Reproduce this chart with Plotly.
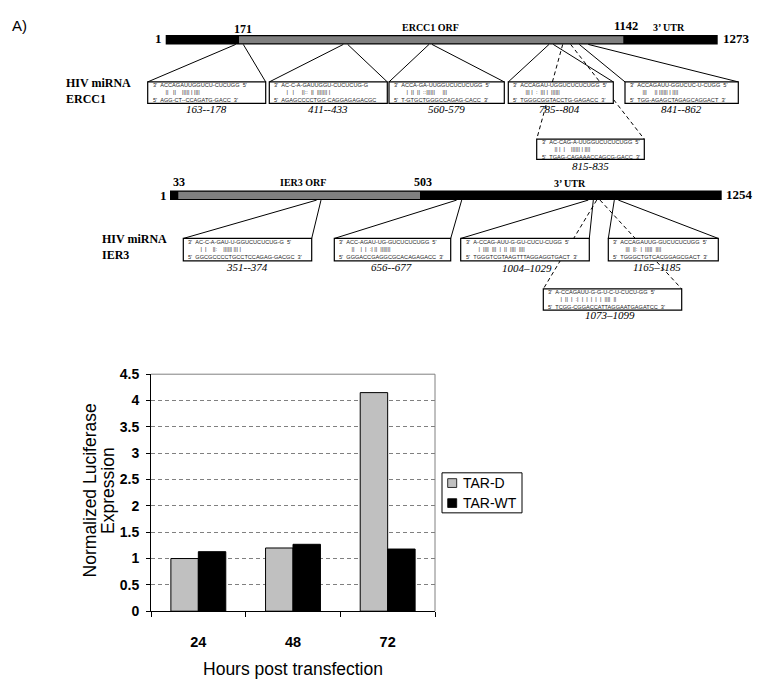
import plotly.graph_objects as go

W, H = 765, 681

# ---------------- data ----------------
hours = ["24", "48", "72"]
tar_d = [1.0, 1.2, 4.15]
tar_wt = [1.13, 1.27, 1.18]
series_names = ["TAR-D", "TAR-WT"]
series_colors = ["#C0C0C0", "black"]
y_ticks = [0, 0.5, 1, 1.5, 2, 2.5, 3, 3.5, 4, 4.5]
y_title_lines = ["Normalized Luciferase", "Expression"]
x_title = "Hours post transfection"

ercc1_ends = ["1", "171", "1142", "1273"]
ier3_ends = ["1", "33", "503", "1254"]

ercc1_sites = ["163--178", "411--433", "560-579", "785--804", "841--862", "815-835"]
ercc1_top = ["ACCAGAUUGGUCU-CUCUGG", "AC-C-A-GAUUGGU-CUCUCUG-G", "ACCA-GA-UUGGUCUCUCUGG",
             "ACCAGAU-UGGUCUCUCUGG", "ACCAGAUU-GGUCUC-U-CUGG", "AC-CAG-A-UUGGUCUCUCUGG"]
ercc1_match = ["||   ||    ||||| | ||||", "|   |     ||::  ||  ||||||| |", "|  ||  ||  ::||||||     |||",
               "||| |  :  ||| |  ||||||", "|||     || |||||| | ||||", "|| |  |    |||||| | ||||"]
ercc1_bot = ["AGG-CT--CCAGATG-GACC", "AGAGCCCCTGG-CAGGAGAGACGC", "T-GTGCTGGGCCAGAG-CACC",
             "TGGGCGGTACCTG-GAGACC", "TGG-AGAGCTAGAGCAGGACT", "TGAG-CAGAAACCAGCG-GACC"]
ercc1_close = [True, False, True, True, True, True]

ier3_sites = ["351--374", "656--677", "1004\u20131029", "1165\u20131185", "1073\u20131099"]
ier3_top = ["AC-C-A-GAU-U-GGUCUCUCUG-G", "ACC-AGAU-UG-GUCUCUCUGG", "A-CCAG-AUU-G-GU-CUCU-CUGG",
            "ACCAGAUUG-GUCUCUCUGG", "A-CCAGAUU-G-G-U-C-U-CUCU-GG"]
ier3_match = ["|  |    ||:    |||||| ||| |", "||    |  |  :| ||  |||||||", "|  ||||  |||  |  ||  ||||  ||||",
              "|||  ||:  |  |||||  ||||", "|  ||  |  :|  |  |  |  |  |  ||||  ||"]
ier3_bot = ["GGCGCCCCTGCCTCCAGAG-GACGC", "GGGACCGAGGCGCACAGAGACC", "TGGGTCGTAAGTTTAGGAGGTGACT",
            "TGGGCTGTCACGGAGCGACT", "TCGG-CGGACCATTAGGAATGAGATCC"]
ier3_close = [True, True, True, True, True]

# ---------------- layout constants (pixels) ----------------
ERCC1_BAR = dict(y0=27.7, y1=37.3, x0=165.7, orf0=239.0, orf1=623.3, x1=717.7)
IER3_BAR = dict(y0=187.0, y1=196.7, x0=170.0, orf0=178.3, orf1=420.0, x1=721.7)

ercc1_boxes = [(147.7, 265.7, 75.7, 97.7), (269.3, 387.3, 75.7, 97.7), (389.0, 504.3, 75.7, 97.7),
               (508.3, 613.3, 75.7, 97.7), (625.0, 738.3, 75.7, 97.7), (536.7, 644.3, 134.3, 155.0)]
ercc1_conn = [(235.7, 243.3, False), (343.3, 347.7, False), (429.0, 432.0, False),
              (549.0, 553.3, False), (579.3, 588.3, False), (562.7, 570.7, True)]
ercc1_lab = [(206.7, 103), (328, 103), (446, 103), (559, 103), (681, 103), (590, 162)]

ier3_boxes = [(183.3, 311.7, 236.0, 259.0), (334.3, 450.7, 236.0, 259.0), (460.7, 589.3, 236.0, 259.0),
              (608.3, 718.3, 236.0, 259.0), (543.3, 681.7, 287.7, 309.3)]
ier3_conn = [(316.7, 321.0, False), (456.7, 461.7, False), (588.3, 593.3, False),
             (614.3, 618.3, False), (596.7, 600.0, True)]
ier3_lab = [(246.7, 265), (392, 265), (526.7, 266), (656.7, 265), (610, 314)]

SERIF = "Liberation Serif"
SANS = "Liberation Sans"


def X(px):
    return px / W


def Y(py):
    return 1 - py / H


shapes = []
annotations = []


def rect(x0, y0, x1, y1, fill, lc="black", lw=1):
    shapes.append(dict(type="rect", xref="paper", yref="paper", x0=X(x0), x1=X(x1), y0=Y(y1), y1=Y(y0),
                       fillcolor=fill, line=dict(color=lc, width=lw), layer="above"))


def seg(x0, y0, x1, y1, dash="solid", color="black", lw=1):
    shapes.append(dict(type="line", xref="paper", yref="paper", x0=X(x0), x1=X(x1), y0=Y(y0), y1=Y(y1),
                       line=dict(color=color, width=lw, dash=dash), layer="above"))


def text(px, py, s, size, family=SERIF, bold=False, italic=False, xanchor="center", align="center",
         color="black", angle=0):
    annotations.append(dict(xref="paper", yref="paper", x=X(px), y=Y(py), text=s, showarrow=False,
                            xanchor=xanchor, yanchor="middle", align=align, textangle=angle,
                            font=dict(family=family, size=size, color=color,
                                      weight="bold" if bold else "normal",
                                      style="italic" if italic else "normal")))


def gene_bar(b):
    rect(b["x0"], b["y0"], b["x1"], b["y1"], "black", "black", 0)
    rect(b["orf0"], b["y0"] + 1.2, b["orf1"], b["y1"] - 1.2, "#808080", "#808080", 0)


def nb(s):
    return s.replace(" ", "\u00a0")


def site_boxes(boxes, conns, labs, sites, tops, matches, bots, closes, bar):
    for (bx0, bx1, y0, y1), (c0, c1, dashed) in zip(boxes, conns):
        d = "4px,3px" if dashed else "solid"
        seg(c0, bar["y1"], bx0, y0, dash=d)
        seg(c1, bar["y1"], bx1, y0, dash=d)
    for (bx0, bx1, y0, y1), (lx, ly), s, t, m, b, cl in zip(boxes, labs, sites, tops, matches, bots, closes):
        rect(bx0, y0, bx1, y1, "white", "black", 1.2)
        l1 = "3'  " + t + ("  5'" if cl else "")
        l2 = "        " + m
        l3 = "5'  " + b + ("  3'" if cl else "")
        text(bx0 + 3, (y0 + y1) / 2, "<br>".join(nb(v) for v in (l1, l2, l3)), 5.6, family=SANS,
             xanchor="left", align="left", color="#222222")
        text(lx, ly, s, 11, italic=True)


# ----- ERCC1 map -----
text(19, 18, "A)", 15, family=SANS)
gene_bar(ERCC1_BAR)
text(158, 31.5, ercc1_ends[0], 13, bold=True)
text(243, 21.5, ercc1_ends[1], 12, bold=True)
text(430, 19.5, "ERCC1 ORF", 10, bold=True)
text(625.7, 18, ercc1_ends[2], 12.5, bold=True)
text(668.7, 20, "3\u2019 UTR", 10, bold=True)
text(721, 31, ercc1_ends[3], 13, bold=True, xanchor="left")
text(64, 85, "HIV miRNA<br>ERCC1", 12, bold=True, xanchor="left", align="left")
site_boxes(ercc1_boxes, ercc1_conn, ercc1_lab, ercc1_sites, ercc1_top, ercc1_match, ercc1_bot,
           ercc1_close, ERCC1_BAR)

# ----- IER3 map -----
gene_bar(IER3_BAR)
text(163.5, 191.5, ier3_ends[0], 13, bold=True)
text(179, 178.5, ier3_ends[1], 12, bold=True)
text(303, 178.5, "IER3 ORF", 10, bold=True)
text(422.5, 178.5, ier3_ends[2], 12, bold=True)
text(570, 179.5, "3\u2019 UTR", 10, bold=True)
text(723.5, 190.5, ier3_ends[3], 13, bold=True, xanchor="left")
text(100, 244.5, "HIV miRNA<br>IER3", 12, bold=True, xanchor="left", align="left")
site_boxes(ier3_boxes, ier3_conn, ier3_lab, ier3_sites, ier3_top, ier3_match, ier3_bot,
           ier3_close, IER3_BAR)

# ---------------- bar chart ----------------
PX0, PX1, PY0, PY1 = 151.0, 435.0, 375.0, 617.7

fig = go.Figure()
for name, vals, col in zip(series_names, [tar_d, tar_wt], series_colors):
    fig.add_trace(go.Bar(x=hours, y=vals, name=name, showlegend=False,
                         marker=dict(color=col, line=dict(color="black", width=1))))

# plot-area border (top/right, gray)
shapes.append(dict(type="line", xref="x domain", yref="y domain", x0=0, x1=1, y0=1, y1=1,
                   line=dict(color="#808080", width=1), layer="above"))
shapes.append(dict(type="line", xref="x domain", yref="y domain", x0=1, x1=1, y0=0, y1=1,
                   line=dict(color="#808080", width=1), layer="above"))

# y title (two tightly spaced lines, as in the original)
text(90, 494, y_title_lines[0], 17.5, family=SANS, angle=-90)
text(108.5, 494, y_title_lines[1], 17.5, family=SANS, angle=-90)

# legend box (Excel style)
rect(442, 476, 522, 517, "white", "black", 1)
for i, (name, col) in enumerate(zip(series_names, series_colors)):
    cy = 486.5 + i * 20.5
    rect(447.7, cy - 4.5, 456.7, cy + 4.5, col, "black", 0.8)
    text(460.5, cy, name, 14, family=SANS, xanchor="left")

fig.update_layout(
    width=W, height=H,
    margin=dict(l=0, r=0, t=0, b=0),
    paper_bgcolor="white", plot_bgcolor="white",
    barmode="group", bargap=0.42, bargroupgap=0,
    font=dict(family=SANS, color="black"),
    xaxis=dict(domain=[X(PX0), X(PX1)], type="category",
               showline=True, linecolor="black", linewidth=1,
               ticks="outside", tickson="boundaries", ticklen=5, tickcolor="black",
               ticklabelstandoff=17,
               tickfont=dict(family=SANS, size=14.5, weight="bold"),
               title=dict(text=x_title, font=dict(family=SANS, size=17.5), standoff=14),
               showgrid=False),
    yaxis=dict(domain=[Y(PY1), Y(PY0)], range=[0, 4.5], tickvals=y_ticks,
               showline=True, linecolor="black", linewidth=1,
               ticks="outside", ticklen=4, tickcolor="black", ticklabelstandoff=4,
               tickfont=dict(family=SANS, size=14, weight="bold"),
               showgrid=True, gridcolor="#808080", griddash="4px,3px", gridwidth=1, zeroline=False),
    showlegend=False,
    shapes=shapes,
    annotations=annotations,
)

fig.write_html("out.html", config={"displayModeBar": False},
               post_script="document.body.style.margin='0';")
